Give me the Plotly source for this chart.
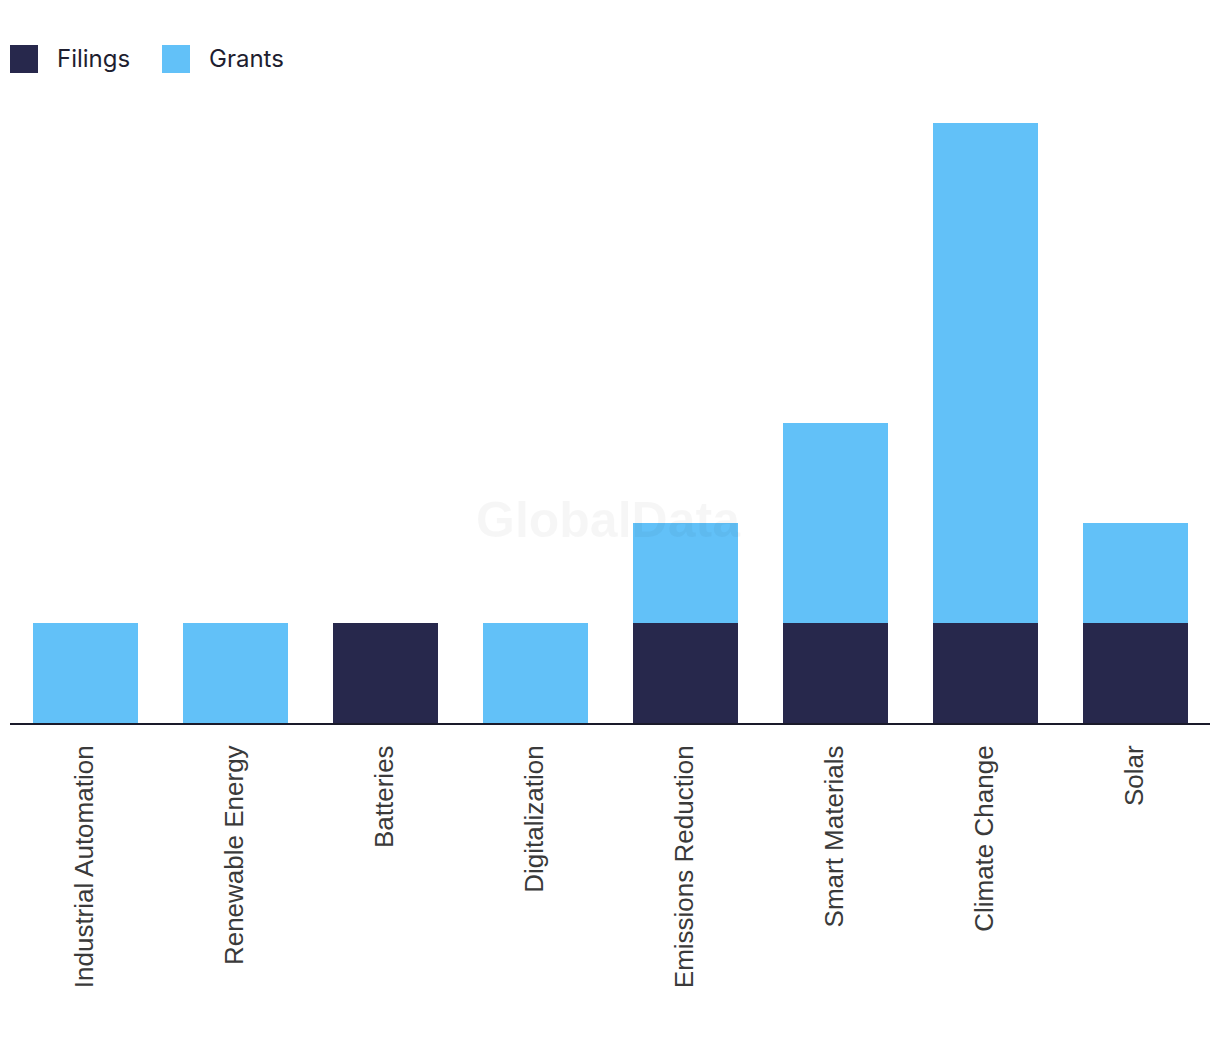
import plotly.graph_objects as go

categories = ["Industrial Automation", "Renewable Energy", "Batteries", "Digitalization",
              "Emissions Reduction", "Smart Materials", "Climate Change", "Solar"]
filings = [0, 0, 1, 0, 1, 1, 1, 1]
grants = [1, 1, 0, 1, 1, 2, 5, 1]

DARK = "#27284c"
LIGHT = "#62c1f8"

fig = go.Figure()
fig.add_trace(go.Bar(x=categories, y=filings, name="Filings", marker_color=DARK,
                     marker_line_width=0))
fig.add_trace(go.Bar(x=categories, y=grants, name="Grants", marker_color=LIGHT,
                     marker_line_width=0))

OFF = 8  # page body margin
W, H = 1204, 1026
L, R, T, B = 2, 2, 92, 311
pw, ph = W - L - R, H - T - B

def px(x):
    return (x - OFF - L) / pw

def py(y):
    return (H - B - (y - OFF)) / ph

# custom legend
legend_items = [("Filings", DARK, 10, 55), ("Grants", LIGHT, 162, 207)]
shapes = []
annotations = []
for name, col, sx, tx in legend_items:
    shapes.append(dict(type="rect", xref="paper", yref="paper",
                       x0=px(sx), x1=px(sx + 28), y0=py(73), y1=py(45),
                       fillcolor=col, line_width=0))
    annotations.append(dict(text=name, xref="paper", yref="paper", x=px(tx), y=py(59),
                            xanchor="left", yanchor="middle", showarrow=False,
                            font=dict(family="Inter", size=24, color="#1e1e30")))

annotations.append(dict(text="<b>GlobalData</b>", xref="paper", yref="paper",
                        x=px(608), y=py(520), xanchor="center", yanchor="middle",
                        showarrow=False,
                        font=dict(family="Liberation Sans", size=50, color="rgba(0,0,0,0.035)")))

fig.update_layout(
    barmode="stack",
    width=W, height=H,
    margin=dict(l=L, r=R, t=T, b=B, pad=0),
    paper_bgcolor="white", plot_bgcolor="white",
    showlegend=False,
    bargap=0.3,
    shapes=shapes,
    annotations=annotations,
    xaxis=dict(tickangle=-90, showline=True, linecolor="#1a1a2a", linewidth=2,
               ticks="", showgrid=False, zeroline=False,
               tickfont=dict(family="Liberation Sans", size=26, color="#3a3a3a"),
               ticklabelstandoff=10),
    yaxis=dict(range=[0, 6.23], visible=False, showgrid=False, zeroline=False),
)

fig.write_html("out.html")
